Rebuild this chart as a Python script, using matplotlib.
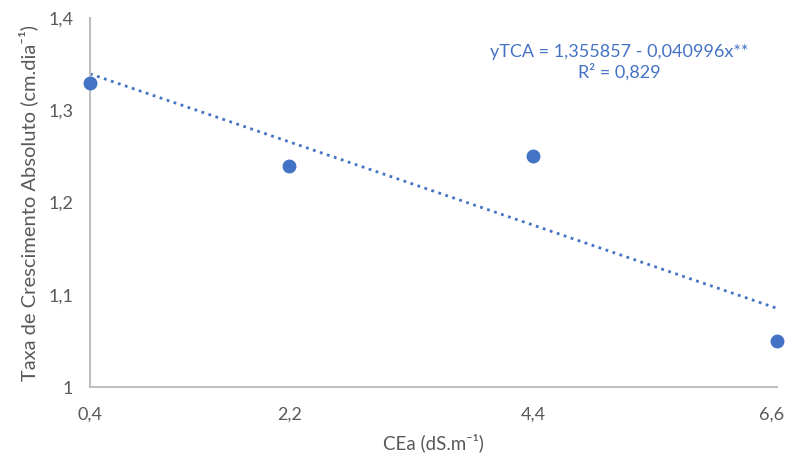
import numpy as np
import matplotlib.pyplot as plt
import matplotlib.transforms as mtransforms

plt.rcParams['font.family'] = ['Lato', 'DejaVu Sans']

# dados
cea = [0.4, 2.2, 4.4, 6.6]
tca = [1.33, 1.24, 1.25, 1.05]
a, b = 1.355857, -0.040996

xticks = [0.4, 2.2, 4.4, 6.6]
xticklabels = ['0,4', '2,2', '4,4', '6,6']
yticks = [1.0, 1.1, 1.2, 1.3, 1.4]
yticklabels = ['1', '1,1', '1,2', '1,3', '1,4']

azul = '#4472C4'
cinza = '#595959'

fig = plt.figure(figsize=(7.87, 4.62), dpi=100)
ax = fig.add_axes([0.1144, 0.1623, 0.8729, 0.7987])

xl = np.array([min(cea), max(cea)])
ax.plot(xl, a + b * xl, ':', color=azul, lw=2, clip_on=False)
ax.plot(cea, tca, 'o', color=azul, ms=9, clip_on=False, zorder=3)

ax.set_xlim(0.4, 6.6)
ax.set_ylim(1.0, 1.4)
ax.set_xticks(xticks)
ax.set_xticklabels(xticklabels)
ax.set_yticks(yticks)
ax.set_yticklabels(yticklabels)
ax.tick_params(length=0, labelsize=13, labelcolor=cinza)
ax.tick_params(axis='x', pad=14)
ax.tick_params(axis='y', pad=12)

# ultimo rotulo um pouco para a esquerda, para caber na figura
ult = ax.get_xticklabels()[-1]
ult.set_transform(ult.get_transform() +
                  mtransforms.ScaledTranslation(-0.05, 0, fig.dpi_scale_trans))

for s in ['top', 'right']:
    ax.spines[s].set_visible(False)
for s in ['left', 'bottom']:
    ax.spines[s].set_color('#BFBFBF')
    ax.spines[s].set_linewidth(1.5)

ax.set_xlabel('CEa (dS.m⁻¹)', fontsize=13.5, color=cinza, labelpad=8)
ax.set_ylabel('Taxa de Crescimento Absoluto (cm.dia⁻¹)', fontsize=14.5,
              color=cinza, labelpad=7)

ax.text(0.77, 0.88, 'yTCA = 1,355857 - 0,040996x**\nR² = 0,829',
        transform=ax.transAxes, ha='center', va='center', fontsize=13,
        color=azul, linespacing=1.2)

fig.savefig('out.png', dpi=100)
